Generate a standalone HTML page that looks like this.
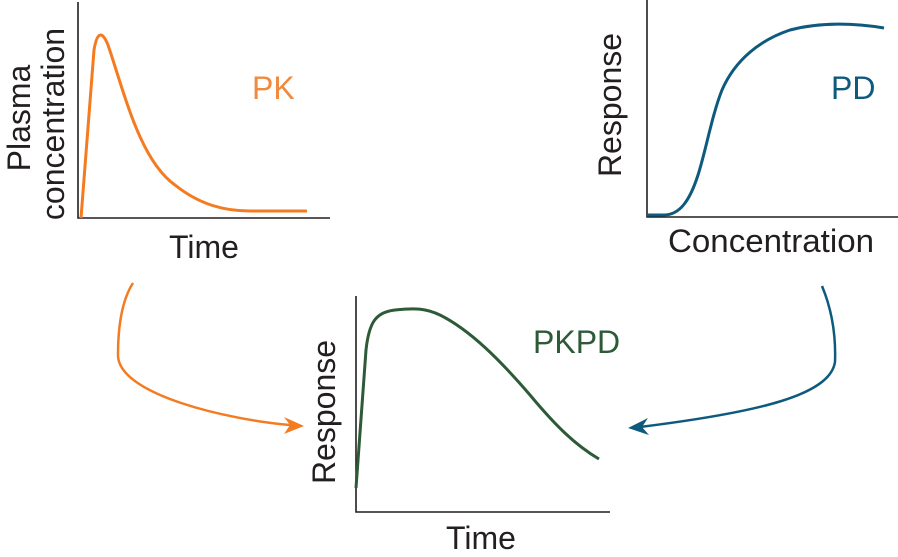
<!DOCTYPE html>
<html><head><meta charset="utf-8"><style>
body{margin:0;background:#fff}
svg{display:block}
text{font-family:"Liberation Sans",Arial,sans-serif}
</style></head><body>
<svg width="898" height="557" viewBox="0 0 898 557" xmlns="http://www.w3.org/2000/svg">
<g stroke="#231f20" stroke-width="1.6" fill="none">
<polyline points="78,2 78,218 330,218"/>
<polyline points="647,0 647,217 898,217"/>
<polyline points="356,296 356,512 610,512"/>
</g>
<!-- PK -->
<path d="M81,218 L94,50 C97,32 102,30 108,45 C125,95 140,160 175,185 C200,205 225,211 250,211 L307,211" stroke="#f47b20" stroke-width="3" fill="none"/>
<text x="252" y="99" font-size="32" fill="#ef8a3e">PK</text>
<text transform="translate(30,118) rotate(-90)" font-size="32" fill="#231f20" text-anchor="middle">Plasma</text>
<text transform="translate(64,124) rotate(-90)" font-size="32" fill="#231f20" text-anchor="middle">concentration</text>
<text x="204" y="258" font-size="32" fill="#231f20" text-anchor="middle">Time</text>
<!-- PD -->
<path d="M647,215 L664,215 C680,215 690,200 698,175 C706,150 712,115 722,90 C735,60 760,40 790,30 C820,22 855,23 884,28" stroke="#0e5a7e" stroke-width="3" fill="none"/>
<text x="831" y="99" font-size="32" fill="#0e5a7e">PD</text>
<text transform="translate(621,105) rotate(-90)" font-size="32" fill="#231f20" text-anchor="middle">Response</text>
<text x="771" y="252" font-size="32" fill="#231f20" text-anchor="middle" textLength="206" lengthAdjust="spacingAndGlyphs">Concentration</text>
<!-- PKPD -->
<path d="M356,488 L366,350 C369,322 376,312 395,310 C415,308 425,308 440,315 C470,330 500,360 530,395 C555,425 575,445 599,459" stroke="#2d5a37" stroke-width="3" fill="none"/>
<text x="533" y="353" font-size="32" fill="#2d5a37">PKPD</text>
<text transform="translate(335,412) rotate(-90)" font-size="32" fill="#231f20" text-anchor="middle">Response</text>
<text x="481" y="549" font-size="32" fill="#231f20" text-anchor="middle">Time</text>
<!-- arrows -->
<path d="M133,283 C122,300 118,325 118,355 C118,395 230,420 290,425" stroke="#f47b20" stroke-width="2.5" fill="none"/>
<path d="M304,426 L284,417 L290,425 L284,434 Z" fill="#f47b20"/>
<path d="M822,286 C832,310 836,335 835,362 C830,395 760,412 640,427" stroke="#0e5a7e" stroke-width="2.5" fill="none"/>
<path d="M628,428 L648,418 L642,427 L649,435 Z" fill="#0e5a7e"/>
</svg>
</body></html>
